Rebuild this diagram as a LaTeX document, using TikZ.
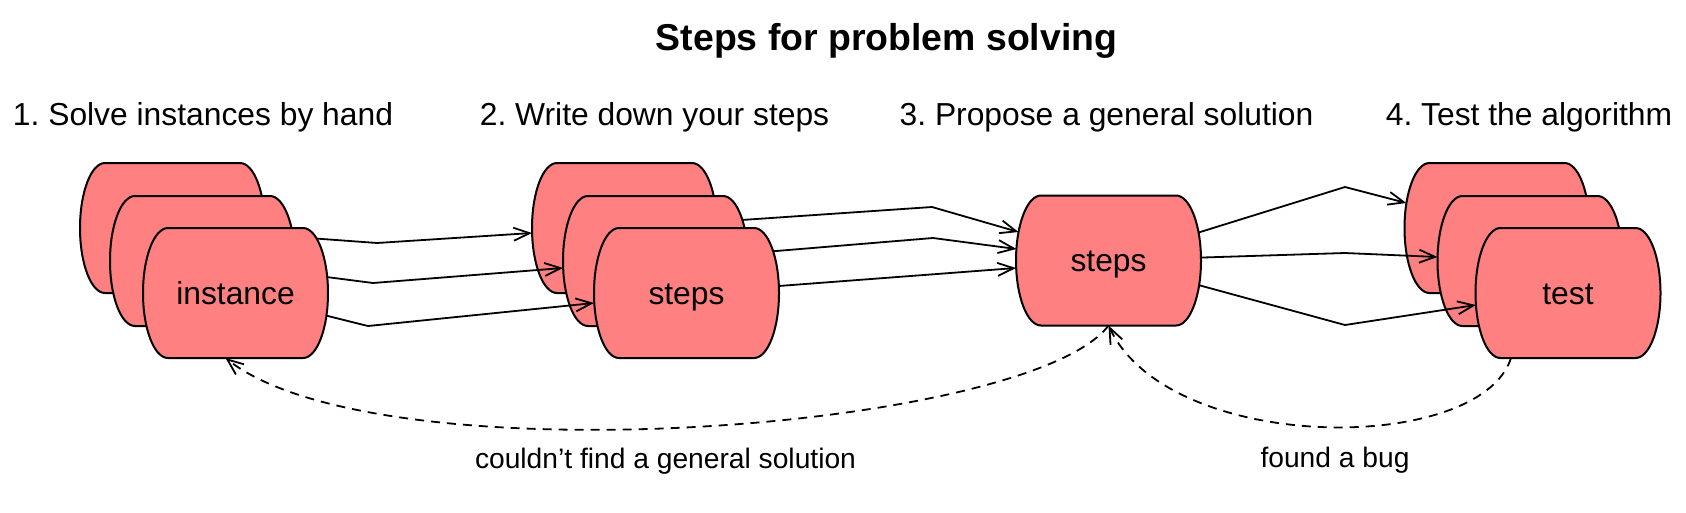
\documentclass[tikz,border=0pt]{standalone}
\usepackage{fontspec}
\setmainfont{Liberation Sans}
\usetikzlibrary{arrows.meta,calc}
\definecolor{boxpink}{HTML}{FF8080}
\makeatletter
\pgfkeys{/pgf/bulge depth/.initial=25pt}
\pgfdeclareshape{bulgebox}{%
  \inheritsavedanchors[from=rectangle]%
  \inheritanchorborder[from=rectangle]%
  \inheritanchor[from=rectangle]{center}%
  \inheritanchor[from=rectangle]{north}%
  \inheritanchor[from=rectangle]{south}%
  \inheritanchor[from=rectangle]{east}%
  \inheritanchor[from=rectangle]{west}%
  \inheritanchor[from=rectangle]{north east}%
  \inheritanchor[from=rectangle]{north west}%
  \inheritanchor[from=rectangle]{south east}%
  \inheritanchor[from=rectangle]{south west}%
  \inheritanchor[from=rectangle]{base}%
  \inheritanchor[from=rectangle]{mid}%
  \backgroundpath{%
    \southwest \edef\bb@l{\the\pgf@x}\edef\bb@b{\the\pgf@y}%
    \northeast \edef\bb@r{\the\pgf@x}\edef\bb@t{\the\pgf@y}%
    \pgfmathsetlengthmacro\bb@d{\pgfkeysvalueof{/pgf/bulge depth}}%
    \pgfmathsetlengthmacro\bb@h{(\bb@t-(\bb@b))/2}%
    \pgfpathmoveto{\pgfpoint{\bb@l+\bb@d}{\bb@t}}%
    \pgfpathlineto{\pgfpoint{\bb@r-\bb@d}{\bb@t}}%
    \pgfpatharc{90}{-90}{\bb@d and \bb@h}%
    \pgfpathlineto{\pgfpoint{\bb@l+\bb@d}{\bb@b}}%
    \pgfpatharc{270}{90}{\bb@d and \bb@h}%
    \pgfpathclose
  }%
}
\makeatother
\pgfdeclarelayer{edgesA}
\pgfdeclarelayer{shapesA}
\pgfdeclarelayer{edgesB}
\pgfdeclarelayer{shapesB}
\pgfdeclarelayer{edgesC}
\pgfsetlayers{edgesA,shapesA,edgesB,shapesB,edgesC,main}
\begin{document}
\frenchspacing
\begin{tikzpicture}[x=1pt,y=-1pt,
  blob/.style={shape=bulgebox, draw=black, line width=2pt, fill=boxpink,
    minimum width=185pt, minimum height=130pt, inner sep=0pt, outer sep=0pt,
    text height=22.8pt, text depth=0pt,
    font=\fontsize{31.8}{38}\selectfont},
  flow/.style={draw=black, line width=1.8pt, -{Straight Barb[length=16pt,width=13pt]}},
  backflow/.style={flow, dash pattern=on 9pt off 7pt},
  heading/.style={anchor=base, inner sep=0pt, font=\fontsize{31.8}{38}\selectfont},
  label/.style={anchor=base, inner sep=0pt, font=\fontsize{28.2}{34}\selectfont},
  titletext/.style={anchor=base, inner sep=0pt, font=\fontsize{37.4}{44}\selectfont\bfseries}]
\useasboundingbox (0,0) rectangle (1686,512);

% texts
\node[titletext] (title) at (886.5,50) {Steps for problem solving};
\node[heading] (h1) at (203,125) {1. Solve instances by hand};
\node[heading] (h2) at (654.5,125) {2. Write down your steps};
\node[heading] (h3) at (1106.5,125) {3. Propose a general solution};
\node[heading] (h4) at (1529,125) {4. Test the algorithm};

% back shapes
\begin{pgfonlayer}{shapesA}
  \node[blob] (i1) at (172.5,228) {};
  \node[blob] (s1) at (624.5,228) {};
  \node[blob] (t1) at (1497,228) {};
\end{pgfonlayer}
% middle shapes
\begin{pgfonlayer}{shapesB}
  \node[blob] (i2) at (202.5,261) {};
  \node[blob] (s2) at (655.5,261) {};
  \node[blob] (t2) at (1530,261) {};
\end{pgfonlayer}
% front shapes
\node[blob] (i3) at (235.5,293) {instance};
\node[blob] (s3) at (686.5,293) {steps};
\node[blob] (t3) at (1568,293) {test};
\node[blob] (c) at (1108.5,260.5) {steps};

% edges from back shapes
\begin{pgfonlayer}{edgesA}
  \draw[flow] (i1.center) -- (377,243) -- ($(s1.west)+(0,5)$);
  \draw[flow] (s1.center) -- (932,207) -- ($(c.west)+(2.5,-28.5)$);
  \draw[flow] (c.center) -- (1345,187) -- ($(t1.west)+(1.9,-25)$);
\end{pgfonlayer}
% edges from middle shapes
\begin{pgfonlayer}{edgesB}
  \draw[flow] (i2.center) -- (373,283) -- ($(s2.west)+(0,7)$);
  \draw[flow] (s2.center) -- (933,238) -- ($(c.west)+(0.4,-11.5)$);
  \draw[flow] (c.center) -- (1345,253) -- ($(t2.west)+(0,-4)$);
\end{pgfonlayer}
% edges from front shapes
\begin{pgfonlayer}{edgesC}
  \draw[flow] (i3.center) -- (368,326) -- ($(s3.west)+(0,10)$);
  \draw[flow] (s3.center) -- ($(c.west)+(0,7.5)$);
  \draw[flow] (c.center) -- (1345,325) -- ($(t3.west)+(0.4,12)$);
\end{pgfonlayer}

% feedback arrows
\draw[backflow] (c.south) .. controls (1030,430) and (380,480) .. ($(i3.south)+(-10,0)$);
\draw[backflow] ($(t3.south)+(-57,0)$) .. controls (1480,455) and (1170,455) .. (c.south);
\node[label] (l1) at (665.5,468) {couldn’t find a general solution};
\node[label] (l2) at (1335,467) {found a bug};
\end{tikzpicture}
\end{document}
